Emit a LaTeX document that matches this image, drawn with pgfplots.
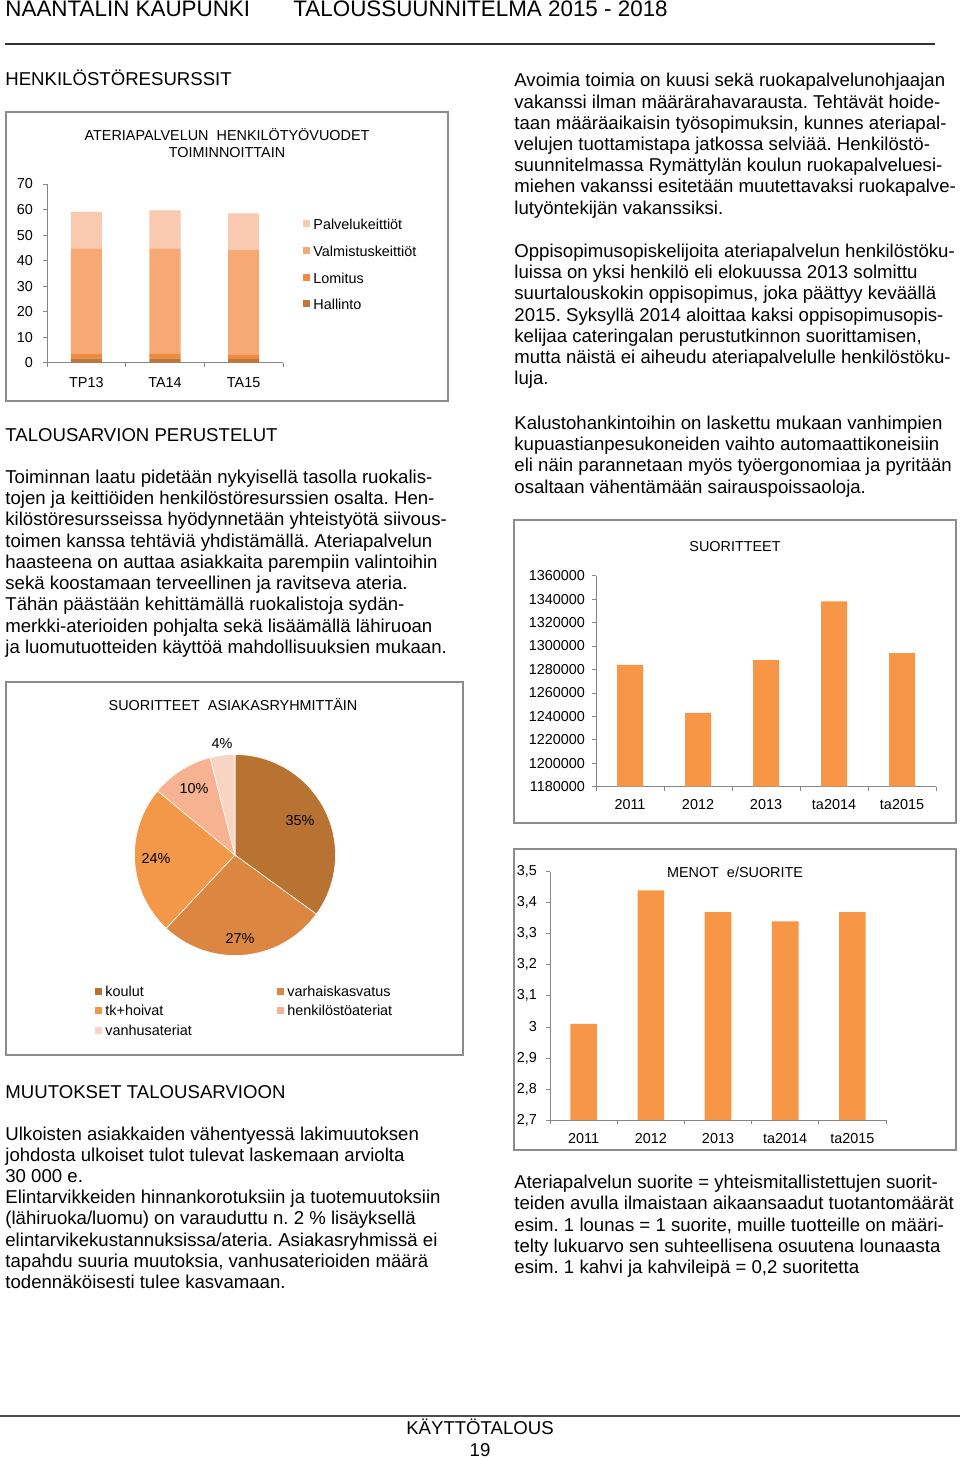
\documentclass[border=0pt]{standalone}
\usepackage{fontspec}
\setmainfont{Liberation Sans}
\usepackage{pgfplots}
\pgfplotsset{compat=1.18}
\frenchspacing

\definecolor{hallinto}{HTML}{C27637}
\definecolor{lomitus}{HTML}{EE8B3E}
\definecolor{valm}{HTML}{F6A875}
\definecolor{palv}{HTML}{F9CAB0}
\definecolor{koulut}{HTML}{B87333}
\definecolor{varhais}{HTML}{DC8741}
\definecolor{tkh}{HTML}{F39849}
\definecolor{henk}{HTML}{F7B291}
\definecolor{vanhus}{HTML}{FAD4C3}
\definecolor{barc}{HTML}{F79646}
\definecolor{framec}{HTML}{8C8C8C}
\definecolor{axg}{HTML}{868686}

\newcommand\body{\fontsize{9.3}{10}\selectfont}
\newcommand\chartf{\fontsize{7.2}{8}\selectfont}
\newcommand\tl[3]{\node[anchor=base west, inner sep=0pt] at (#1,#2) {\body #3};}

\pgfplotsset{
  barchart/.style={
    scale only axis,
    anchor=south west,
    axis x line*=bottom,
    axis y line*=left,
    axis line style={draw=axg,-},
    tick style={draw=axg, line width=0.4pt},
    tick align=outside,
    major tick length=2pt,
    tick label style={font=\chartf},
    /pgf/number format/assume math mode=true,
    clip=false,
  }
}

\begin{document}
\begin{tikzpicture}[x=0.5pt, y=-0.5pt]
\path[use as bounding box] (0,0) rectangle (960,1459);

% ---------- header ----------
\node[anchor=base west, inner sep=0pt] at (5,17) {\fontsize{11.2}{12}\selectfont NAANTALIN KAUPUNKI};
\node[anchor=base west, inner sep=0pt] at (293,17) {\fontsize{11.2}{12}\selectfont TALOUSSUUNNITELMA 2015 - 2018};
\draw[line width=0.7pt, black!80] (5,44) -- (935,44);

% ---------- left column text ----------
\tl{5}{86}{HENKILÖSTÖRESURSSIT}
\tl{5}{441.7}{TALOUSARVION PERUSTELUT}
\tl{5}{483.3}{Toiminnan laatu pidetään nykyisellä tasolla ruokalis-}
\tl{5}{504.5}{tojen ja keittiöiden henkilöstöresurssien osalta. Hen-}
\tl{5}{525.8}{kilöstöresursseissa hyödynnetään yhteistyötä siivous-}
\tl{5}{547.0}{toimen kanssa tehtäviä yhdistämällä. Ateriapalvelun}
\tl{5}{568.3}{haasteena on auttaa asiakkaita parempiin valintoihin}
\tl{5}{589.5}{sekä koostamaan terveellinen ja ravitseva ateria.}
\tl{5}{610.8}{Tähän päästään kehittämällä ruokalistoja sydän-}
\tl{5}{632.0}{merkki-aterioiden pohjalta sekä lisäämällä lähiruoan}
\tl{5}{653.3}{ja luomutuotteiden käyttöä mahdollisuuksien mukaan.}

\tl{5}{1098.3}{MUUTOKSET TALOUSARVIOON}
\tl{5}{1140.0}{Ulkoisten asiakkaiden vähentyessä lakimuutoksen}
\tl{5}{1161.2}{johdosta ulkoiset tulot tulevat laskemaan arviolta}
\tl{5}{1182.4}{30 000 e.}
\tl{5}{1203.6}{Elintarvikkeiden hinnankorotuksiin ja tuotemuutoksiin}
\tl{5}{1224.8}{(lähiruoka/luomu) on varauduttu n. 2 \% lisäyksellä}
\tl{5}{1246.0}{elintarvikekustannuksissa/ateria. Asiakasryhmissä ei}
\tl{5}{1267.2}{tapahdu suuria muutoksia, vanhusaterioiden määrä}
\tl{5}{1288.4}{todennäköisesti tulee kasvamaan.}

% ---------- right column text ----------
\tl{514}{87.0}{Avoimia toimia on kuusi sekä ruokapalvelunohjaajan}
\tl{514}{108.2}{vakanssi ilman määrärahavarausta. Tehtävät hoide-}
\tl{514}{129.4}{taan määräaikaisin työsopimuksin, kunnes ateriapal-}
\tl{514}{150.6}{velujen tuottamistapa jatkossa selviää. Henkilöstö-}
\tl{514}{171.8}{suunnitelmassa Rymättylän koulun ruokapalveluesi-}
\tl{514}{193.0}{miehen vakanssi esitetään muutettavaksi ruokapalve-}
\tl{514}{214.2}{lutyöntekijän vakanssiksi.}

\tl{514}{257.5}{Oppisopimusopiskelijoita ateriapalvelun henkilöstöku-}
\tl{514}{278.7}{luissa on yksi henkilö eli elokuussa 2013 solmittu}
\tl{514}{299.9}{suurtalouskokin oppisopimus, joka päättyy keväällä}
\tl{514}{321.1}{2015. Syksyllä 2014 aloittaa kaksi oppisopimusopis-}
\tl{514}{342.3}{kelijaa cateringalan perustutkinnon suorittamisen,}
\tl{514}{363.5}{mutta näistä ei aiheudu ateriapalvelulle henkilöstöku-}
\tl{514}{384.7}{luja.}

\tl{514}{429.5}{Kalustohankintoihin on laskettu mukaan vanhimpien}
\tl{514}{450.7}{kupuastianpesukoneiden vaihto automaattikoneisiin}
\tl{514}{471.9}{eli näin parannetaan myös työergonomiaa ja pyritään}
\tl{514}{493.1}{osaltaan vähentämään sairauspoissaoloja.}

\tl{514}{1188.5}{Ateriapalvelun suorite = yhteismitallistettujen suorit-}
\tl{514}{1209.7}{teiden avulla ilmaistaan aikaansaadut tuotantomäärät}
\tl{514}{1231.0}{esim. 1 lounas = 1 suorite, muille tuotteille on määri-}
\tl{514}{1252.2}{telty lukuarvo sen suhteellisena osuutena lounaasta}
\tl{514}{1273.5}{esim. 1 kahvi ja kahvileipä = 0,2 suoritetta}

% ---------- footer ----------
\draw[line width=1pt, black!70] (0,1416) -- (960,1416);
\node[anchor=base, inner sep=0pt] at (480,1434) {\body KÄYTTÖTALOUS};
\node[anchor=base, inner sep=0pt] at (480,1456) {\body 19};

% ---------- frames ----------
\draw[framec, line width=1pt] (6,112) rectangle (448,401);
\draw[framec, line width=1pt] (6,682) rectangle (463,1055);
\draw[framec, line width=1pt] (514,520) rectangle (956,823);
\draw[framec, line width=1pt] (514,849) rectangle (956,1150);

% ---------- chart 1: stacked bars ----------
\node[anchor=base, inner sep=0pt] at (227,141) {\chartf ATERIAPALVELUN\ \ HENKILÖTYÖVUODET};
\node[anchor=base, inner sep=0pt] at (227,158) {\chartf TOIMINNOITTAIN};
\begin{axis}[barchart,
  at={(23.5pt,-181.35pt)}, width=118pt, height=89.35pt,
  xmin=-0.5, xmax=2.5, ymin=0, ymax=70,
  ytick={0,10,...,70},
  yticklabel style={xshift=-1.5pt},
  xtick={-0.5,0.5,1.5,2.5}, xticklabels={,,,},
  extra x ticks={0,1,2}, extra x tick labels={TP13,TA14,TA15},
  extra x tick style={major tick length=0pt, tick label style={yshift=-4pt}},
  ybar stacked, bar width=15.5pt,
]
\addplot[fill=hallinto, draw=none] coordinates {(0,1.7) (1,1.7) (2,1.5)};
\addplot[fill=lomitus, draw=none] coordinates {(0,1.7) (1,1.8) (2,1.5)};
\addplot[fill=valm, draw=none] coordinates {(0,41.4) (1,41.3) (2,41.1)};
\addplot[fill=palv, draw=none] coordinates {(0,14.3) (1,14.9) (2,14.4)};
\end{axis}
\fill[palv] (303,220.5) rectangle (310,227.5);
\fill[valm] (303,247.5) rectangle (310,254.5);
\fill[lomitus] (303,274.5) rectangle (310,281.5);
\fill[hallinto] (303,300.5) rectangle (310,307.5);
\node[anchor=west, inner sep=0pt] at (313,224) {\chartf Palvelukeittiöt};
\node[anchor=west, inner sep=0pt] at (313,251) {\chartf Valmistuskeittiöt};
\node[anchor=west, inner sep=0pt] at (313,278) {\chartf Lomitus};
\node[anchor=west, inner sep=0pt] at (313,304) {\chartf Hallinto};

% ---------- chart 2: pie ----------
\node[anchor=base, inner sep=0pt] at (233,710) {\chartf SUORITTEET\ \ ASIAKASRYHMITTÄIN};
\begin{axis}[at={(117.5pt,-427.5pt)}, anchor=center, scale only axis,
  width=100.5pt, height=100.5pt, xmin=-1, xmax=1, ymin=-1, ymax=1,
  hide axis, clip=false]
% shares: koulut 35, varhaiskasvatus 27, tk+hoivat 24, henkilostoateriat 10, vanhusateriat 4 (clockwise from top)
\addplot[fill=koulut, draw=white, line width=0.3pt, domain=-36:90, samples=60] ({cos(x)},{sin(x)}) -- (axis cs:0,0) -- cycle;
\addplot[fill=varhais, draw=white, line width=0.3pt, domain=-133.2:-36, samples=50] ({cos(x)},{sin(x)}) -- (axis cs:0,0) -- cycle;
\addplot[fill=tkh, draw=white, line width=0.3pt, domain=-219.6:-133.2, samples=50] ({cos(x)},{sin(x)}) -- (axis cs:0,0) -- cycle;
\addplot[fill=henk, draw=white, line width=0.3pt, domain=-255.6:-219.6, samples=25] ({cos(x)},{sin(x)}) -- (axis cs:0,0) -- cycle;
\addplot[fill=vanhus, draw=white, line width=0.3pt, domain=-270:-255.6, samples=12] ({cos(x)},{sin(x)}) -- (axis cs:0,0) -- cycle;
\node[font=\chartf] at (axis cs:0.647,0.338) {35\%};
\node[font=\chartf] at (axis cs:0.05,-0.826) {27\%};
\node[font=\chartf] at (axis cs:-0.786,-0.03) {24\%};
\node[font=\chartf] at (axis cs:-0.408,0.657) {10\%};
\node[font=\chartf] at (axis cs:-0.129,1.114) {4\%};
\end{axis}
\fill[koulut] (94.5,987.5) rectangle (101.5,994.5);
\fill[tkh] (94.5,1006.5) rectangle (101.5,1013.5);
\fill[vanhus] (94.5,1026.5) rectangle (101.5,1033.5);
\fill[varhais] (276.5,987.5) rectangle (283.5,994.5);
\fill[henk] (276.5,1006.5) rectangle (283.5,1013.5);
\node[anchor=west, inner sep=0pt] at (105,991) {\chartf koulut};
\node[anchor=west, inner sep=0pt] at (105,1010) {\chartf tk+hoivat};
\node[anchor=west, inner sep=0pt] at (105,1030) {\chartf vanhusateriat};
\node[anchor=west, inner sep=0pt] at (287,991) {\chartf varhaiskasvatus};
\node[anchor=west, inner sep=0pt] at (287,1010) {\chartf henkilöstöateriat};

% ---------- chart 3: SUORITTEET ----------
\node[anchor=base, inner sep=0pt] at (735,552) {\chartf SUORITTEET};
\begin{axis}[barchart,
  at={(298pt,-393.35pt)}, width=170pt, height=105.5pt,
  xmin=-0.5, xmax=4.5, ymin=1180000, ymax=1360000,
  ytick={1180000,1200000,...,1360000},
  scaled y ticks=false,
  yticklabel style={xshift=0pt, /pgf/number format/fixed, /pgf/number format/1000 sep={}},
  xtick={-0.5,0.5,...,4.5}, xticklabels={,,,,,},
  extra x ticks={0,1,2,3,4}, extra x tick labels={2011,2012,2013,ta2014,ta2015},
  extra x tick style={major tick length=0pt, tick label style={yshift=-3pt}},
  ybar, bar width=13pt,
]
\addplot[fill=barc, draw=none] coordinates {(0,1284000) (1,1243000) (2,1288000) (3,1338000) (4,1294000)};
\end{axis}

% ---------- chart 4: MENOT e/SUORITE ----------
\node[anchor=base, inner sep=0pt] at (735,877) {\chartf MENOT\ \ e/SUORITE};
\begin{axis}[barchart,
  at={(275pt,-560pt)}, width=168pt, height=124.15pt,
  xmin=-0.5, xmax=4.5, ymin=2.7, ymax=3.5,
  ytick={2.7,2.8,...,3.5},
  yticklabel style={xshift=-1pt, /pgf/number format/fixed, /pgf/number format/precision=1, /pgf/number format/use comma},
  xtick={-0.5,0.5,...,4.5}, xticklabels={,,,,,},
  extra x ticks={0,1,2,3,4}, extra x tick labels={2011,2012,2013,ta2014,ta2015},
  extra x tick style={major tick length=0pt, tick label style={yshift=-3pt}},
  ybar, bar width=13.3pt,
]
\addplot[fill=barc, draw=none] coordinates {(0,3.01) (1,3.44) (2,3.37) (3,3.34) (4,3.37)};
\end{axis}

\end{tikzpicture}
\end{document}
